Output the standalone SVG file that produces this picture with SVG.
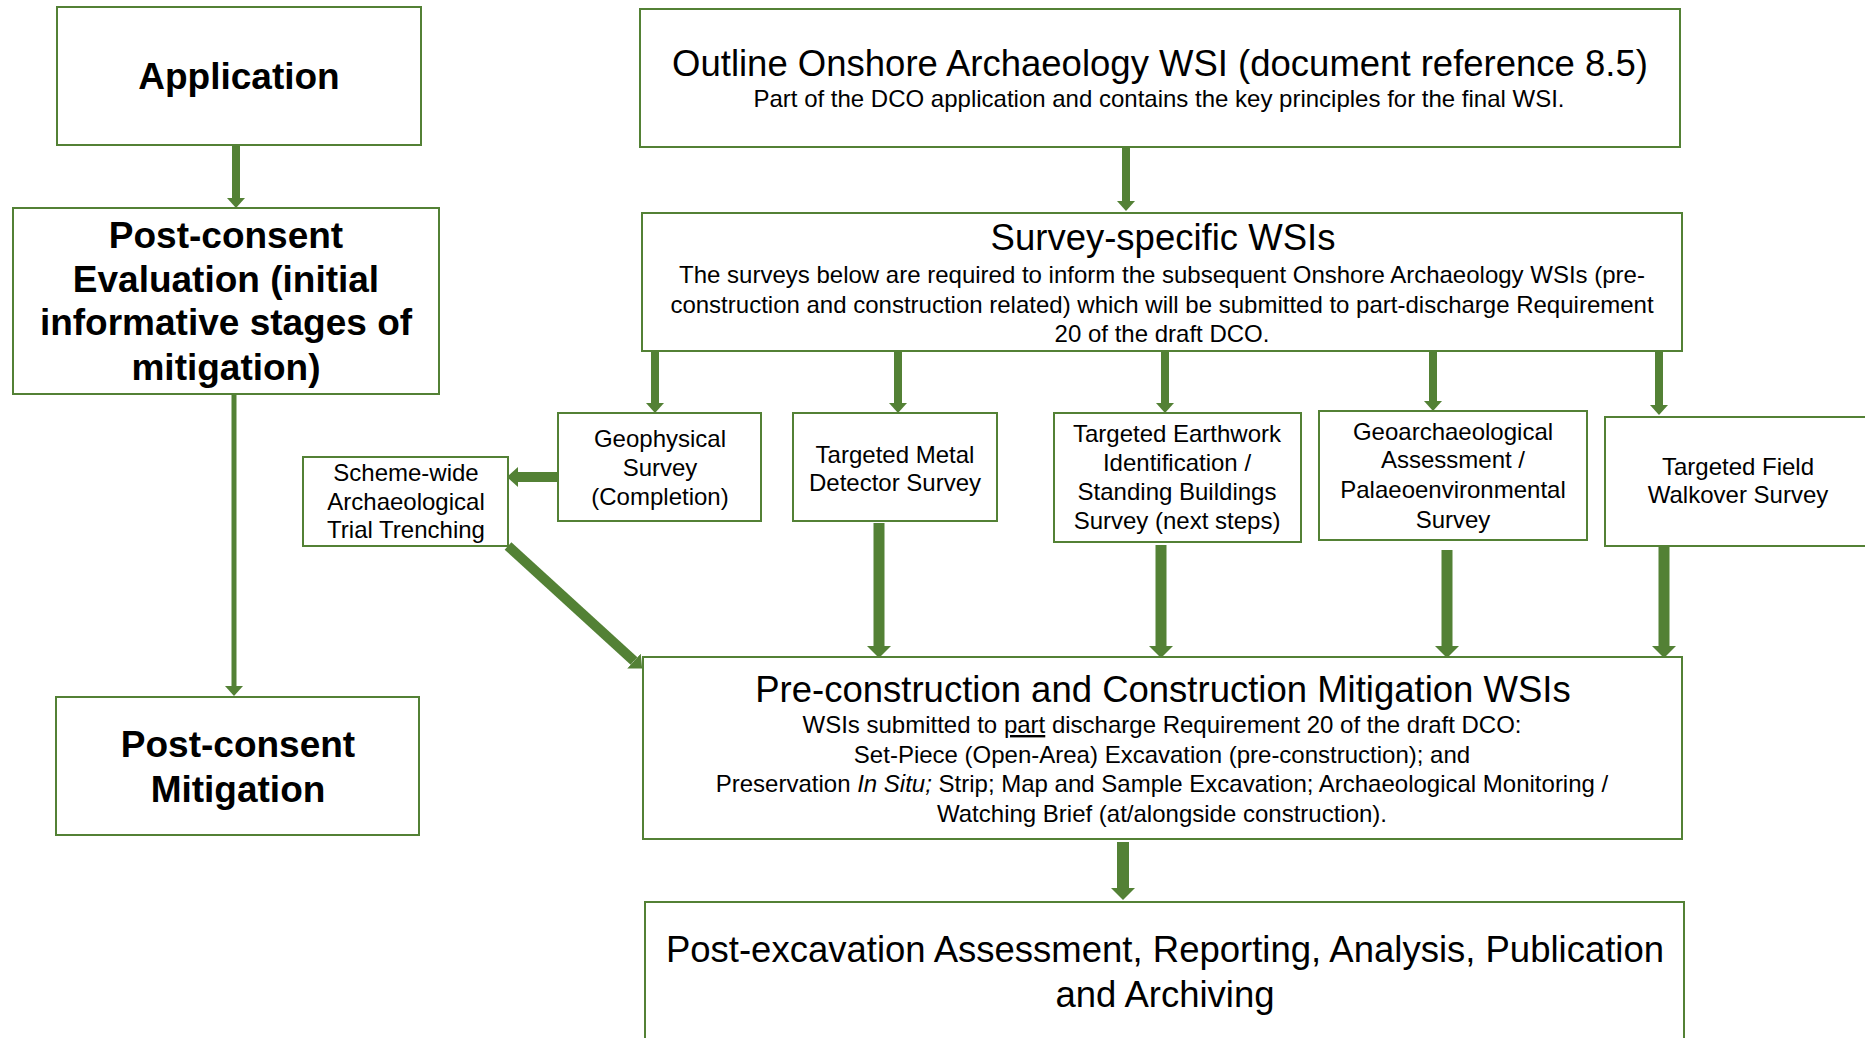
<svg xmlns="http://www.w3.org/2000/svg" width="1865" height="1038" viewBox="0 0 1865 1038">
<style>
.box{fill:#ffffff;stroke:#538135;stroke-width:2}
.t{font-family:"Liberation Sans",Arial,sans-serif;fill:#000000;text-anchor:middle}
.b{font-weight:bold;font-size:37px}
.h{font-size:36.5px}
.s{font-size:24px}
.c{fill:none;stroke:#538135}
</style>
<defs>
<marker id="ms" markerUnits="userSpaceOnUse" markerWidth="10" markerHeight="18" viewBox="0 0 10 18" refX="0" refY="9" orient="auto"><path d="M0,0 L10,9 L0,18 z" fill="#538135"/></marker>
<marker id="mm" markerUnits="userSpaceOnUse" markerWidth="11" markerHeight="20" viewBox="0 0 11 20" refX="0" refY="10" orient="auto"><path d="M0,0 L11,10 L0,20 z" fill="#538135"/></marker>
<marker id="ml" markerUnits="userSpaceOnUse" markerWidth="12" markerHeight="24" viewBox="0 0 12 24" refX="0" refY="12" orient="auto"><path d="M0,0 L12,12 L0,24 z" fill="#538135"/></marker>
</defs>
<rect width="1865" height="1038" fill="#ffffff"/>
<g id="connectors">
<path class="c" stroke-width="8" d="M236,145 V198" marker-end="url(#ms)"/>
<path class="c" stroke-width="5" d="M234,394 V686" marker-end="url(#ms)"/>
<path class="c" stroke-width="8" d="M1126,147 V201" marker-end="url(#ms)"/>
<path class="c" stroke-width="8" d="M655,351 V403" marker-end="url(#ms)"/>
<path class="c" stroke-width="8" d="M898,351 V403" marker-end="url(#ms)"/>
<path class="c" stroke-width="8" d="M1165,351 V403" marker-end="url(#ms)"/>
<path class="c" stroke-width="8" d="M1433,351 V401" marker-end="url(#ms)"/>
<path class="c" stroke-width="8" d="M1659,351 V405" marker-end="url(#ms)"/>
<path class="c" stroke-width="10" d="M558,477 H518" marker-end="url(#mm)"/>
<path class="c" stroke-width="10" d="M508,546 L634,661" marker-end="url(#mm)"/>
<path class="c" stroke-width="11" d="M879,523 V646" marker-end="url(#ml)"/>
<path class="c" stroke-width="11" d="M1161,545 V646" marker-end="url(#ml)"/>
<path class="c" stroke-width="11" d="M1447,550 V646" marker-end="url(#ml)"/>
<path class="c" stroke-width="11" d="M1664,547 V646" marker-end="url(#ml)"/>
<path class="c" stroke-width="12" d="M1123,842 V888" marker-end="url(#ml)"/>
</g>
<g id="application">
<rect class="box" x="57" y="7" width="364" height="138"/>
<text class="t b" x="239" y="89">Application</text>
</g>
<g id="post-consent-evaluation">
<rect class="box" x="13" y="208" width="426" height="186"/>
<text class="t b" x="226" y="248">Post-consent</text>
<text class="t b" x="226" y="292">Evaluation (initial</text>
<text class="t b" x="226" y="335">informative stages of</text>
<text class="t b" x="226" y="380">mitigation)</text>
</g>
<g id="post-consent-mitigation">
<rect class="box" x="56" y="697" width="363" height="138"/>
<text class="t b" x="238" y="757">Post-consent</text>
<text class="t b" x="238" y="802">Mitigation</text>
</g>
<g id="outline-wsi">
<rect class="box" x="640" y="9" width="1040" height="138"/>
<text class="t h" x="1160" y="76">Outline Onshore Archaeology WSI (document reference 8.5)</text>
<text class="t s" x="1159" y="107">Part of the DCO application and contains the key principles for the final WSI.</text>
</g>
<g id="survey-specific-wsis">
<rect class="box" x="642" y="213" width="1040" height="138"/>
<text class="t h" x="1163" y="250">Survey-specific WSIs</text>
<text class="t s" x="1162" y="283">The surveys below are required to inform the subsequent Onshore Archaeology WSIs (pre-</text>
<text class="t s" x="1162" y="313">construction and construction related) which will be submitted to part-discharge Requirement</text>
<text class="t s" x="1162" y="342">20 of the draft DCO.</text>
</g>
<g id="geophysical-survey">
<rect class="box" x="558" y="413" width="203" height="108"/>
<text class="t s" x="660" y="447">Geophysical</text>
<text class="t s" x="660" y="476">Survey</text>
<text class="t s" x="660" y="505">(Completion)</text>
</g>
<g id="trial-trenching">
<rect class="box" x="303" y="457" width="205" height="89"/>
<text class="t s" x="406" y="481">Scheme-wide</text>
<text class="t s" x="406" y="510">Archaeological</text>
<text class="t s" x="406" y="538">Trial Trenching</text>
</g>
<g id="metal-detector-survey">
<rect class="box" x="793" y="413" width="204" height="108"/>
<text class="t s" x="895" y="463">Targeted Metal</text>
<text class="t s" x="895" y="491">Detector Survey</text>
</g>
<g id="earthwork-survey">
<rect class="box" x="1054" y="413" width="247" height="129"/>
<text class="t s" x="1177" y="442">Targeted Earthwork</text>
<text class="t s" x="1177" y="471">Identification /</text>
<text class="t s" x="1177" y="500">Standing Buildings</text>
<text class="t s" x="1177" y="529">Survey  (next steps)</text>
</g>
<g id="geoarchaeological-assessment">
<rect class="box" x="1319" y="411" width="268" height="129"/>
<text class="t s" x="1453" y="440">Geoarchaeological</text>
<text class="t s" x="1453" y="468">Assessment /</text>
<text class="t s" x="1453" y="498">Palaeoenvironmental</text>
<text class="t s" x="1453" y="528">Survey</text>
</g>
<g id="field-walkover-survey">
<rect class="box" x="1605" y="417" width="268" height="129"/>
<text class="t s" x="1738" y="475">Targeted Field</text>
<text class="t s" x="1738" y="503">Walkover Survey</text>
</g>
<g id="mitigation-wsis">
<rect class="box" x="643" y="657" width="1039" height="182"/>
<text class="t h" x="1163" y="702">Pre-construction and Construction Mitigation WSIs</text>
<text class="t s" x="1162" y="733">WSIs submitted to <tspan text-decoration="underline">part</tspan> discharge Requirement 20 of the draft DCO:</text>
<text class="t s" x="1162" y="763">Set-Piece (Open-Area) Excavation (pre-construction); and</text>
<text class="t s" x="1162" y="792">Preservation <tspan font-style="italic">In Situ;</tspan> Strip; Map and Sample Excavation; Archaeological Monitoring /</text>
<text class="t s" x="1162" y="822">Watching Brief (at/alongside construction).</text>
</g>
<g id="post-excavation">
<rect class="box" x="645" y="902" width="1039" height="150"/>
<text class="t h" x="1165" y="962">Post-excavation Assessment, Reporting, Analysis, Publication</text>
<text class="t h" x="1165" y="1007">and Archiving</text>
</g>
</svg>
